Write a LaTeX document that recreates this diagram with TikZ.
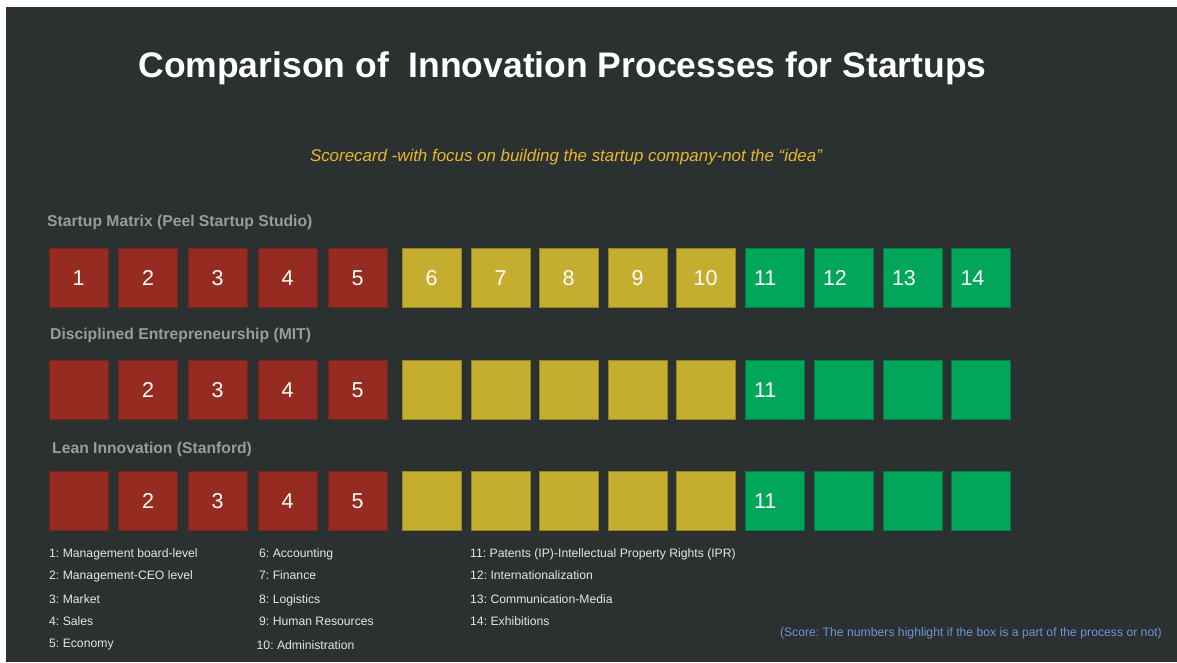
\documentclass[tikz,border=0pt]{standalone}
\usepackage{fontspec}
\setmainfont{Liberation Sans}
\usepackage{tikz}
\frenchspacing

\definecolor{slate}{HTML}{2B3031}
\definecolor{brick}{HTML}{962B21}
\definecolor{mustard}{HTML}{C5AD2F}
\definecolor{emerald}{HTML}{00A65A}
\definecolor{caption}{HTML}{9B9B9B}
\definecolor{gold}{HTML}{E8B82C}
\definecolor{note}{HTML}{6F95D8}
\definecolor{legend}{HTML}{E6E6E6}

\begin{document}
\begin{tikzpicture}[x=1pt, y=-1pt]
\tikzstyle{every node} = [inner sep=0pt]
\tikzstyle{box} = [minimum width=59pt, minimum height=59pt, text height=15.4pt, text depth=0pt, line width=.6pt, text=white, font=\fontsize{21.5}{21.5}\selectfont]
\tikzstyle{rbox} = [box, fill=brick, draw=brick!80!black]
\tikzstyle{ybox} = [box, fill=mustard, draw=mustard!75!black]
\tikzstyle{gbox} = [box, fill=emerald, draw=emerald!75!black, text width=41pt, inner xsep=9pt, align=left]
\tikzstyle{rowname} = [anchor=base west, text=caption, font=\bfseries\fontsize{15.7}{15.7}\selectfont]
\tikzstyle{key} = [anchor=base west, text=legend, font=\fontsize{12.2}{12.2}\selectfont]
\useasboundingbox (0,0) rectangle (1177,662);
\fill[white] (0,0) rectangle (1177,662);
\fill[slate] (6,7) rectangle (1177,662);
% headings
\node[anchor=base, text=white, font=\bfseries\fontsize{35.5}{35.5}\selectfont] (title) at (562.5,77.5) {Comparison of \ Innovation Processes for Startups};
\node[anchor=base, text=gold, font=\itshape\fontsize{16.9}{16.9}\selectfont] (sub) at (566,161) {Scorecard -with focus on building the startup company-not the “idea”};
\node[rowname] (matrix) at (47,226.7) {Startup Matrix (Peel Startup Studio)};
\node[rowname] (mit) at (50,339.3) {Disciplined Entrepreneurship (MIT)};
\node[rowname] (lean) at (52,453.3) {Lean Innovation (Stanford)};
% score boxes
\foreach \i/\x/\s/\k in {1/78.5/rbox/0, 2/148/rbox/1, 3/217.5/rbox/1, 4/287.5/rbox/1, 5/357.5/rbox/1,
  6/431.5/ybox/0, 7/500.5/ybox/0, 8/568.5/ybox/0, 9/637.5/ybox/0, 10/705.5/ybox/0,
  11/774.5/gbox/1, 12/843.5/gbox/0, 13/912.5/gbox/0, 14/981/gbox/0} {
\node[\s] (m\i) at (\x,277.5) {\i};
\node[\s] (d\i) at (\x,389.3) {\ifnum\k=1 \i\fi};
\node[\s] (l\i) at (\x,501) {\ifnum\k=1 \i\fi};
}
% legend
\foreach \n/\y/\t in {1/557.3/Management board-level, 2/579.3/Management-CEO level, 3/603.3/Market, 4/625.3/Sales, 5/647.3/Economy}
\node[key] (k\n) at (49,\y) {\n: \t};
\foreach \n/\y/\t in {6/557.3/Accounting, 7/579.3/Finance, 8/603.3/Logistics, 9/625.3/Human Resources}
\node[key] (k\n) at (259,\y) {\n: \t};
\node[key] (k10) at (256.5,649.3) {10: Administration};
\foreach \n/\y/\t in {11/557.3/Patents (IP)-Intellectual Property Rights (IPR), 12/579.3/Internationalization, 13/603.3/Communication-Media, 14/625.3/Exhibitions}
\node[key] (k\n) at (470,\y) {\n: \t};
\node[anchor=base east, text=note, font=\fontsize{12.2}{12.2}\selectfont] (score) at (1162,636) {(Score: The numbers highlight if the box is a part of the process or not)};
\end{tikzpicture}
\end{document}
